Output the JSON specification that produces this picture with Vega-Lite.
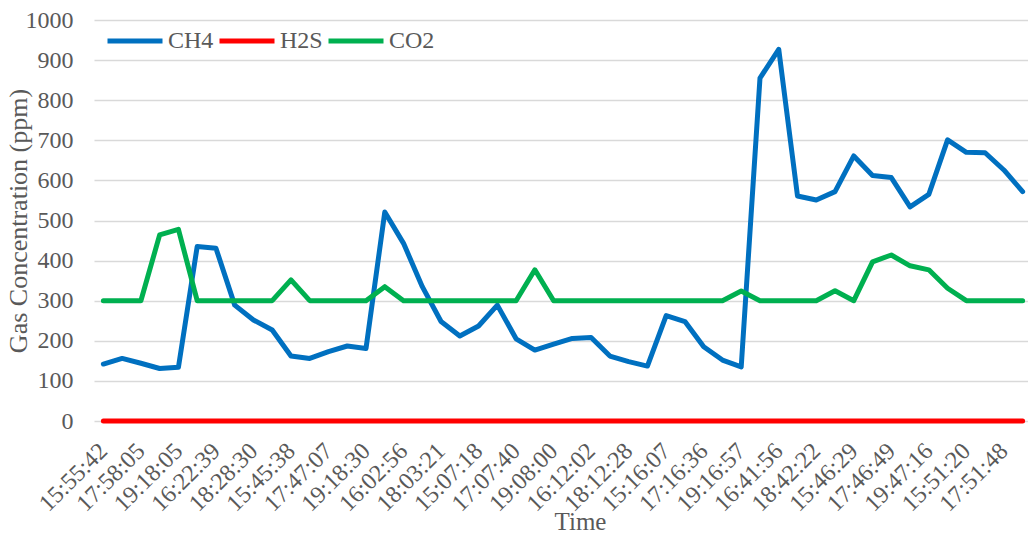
{
  "$schema": "https://vega.github.io/schema/vega-lite/v6.json",
  "width": 934,
  "height": 401,
  "autosize": {"type": "none"},
  "padding": {"left": 94, "top": 20, "right": 0, "bottom": 114},
  "background": "white",
  "config": {
    "font": "Liberation Serif",
    "view": {"stroke": null},
    "axis": {"labelFont": "Liberation Serif", "titleFont": "Liberation Serif"},
    "legend": {"labelFont": "Liberation Serif"}
  },
  "data": {
    "values": [
      {"Time": "15:55:42", "CH4": 142, "H2S": 0, "CO2": 300},
      {"Time": "16:57:10", "CH4": 156, "H2S": 0, "CO2": 300},
      {"Time": "17:58:05", "CH4": 144, "H2S": 0, "CO2": 300},
      {"Time": "18:58:20", "CH4": 131, "H2S": 0, "CO2": 464},
      {"Time": "19:18:05", "CH4": 134, "H2S": 0, "CO2": 478},
      {"Time": "15:20:15", "CH4": 435, "H2S": 0, "CO2": 300},
      {"Time": "16:22:39", "CH4": 431, "H2S": 0, "CO2": 300},
      {"Time": "17:25:44", "CH4": 289, "H2S": 0, "CO2": 300},
      {"Time": "18:28:30", "CH4": 252, "H2S": 0, "CO2": 300},
      {"Time": "19:30:12", "CH4": 227, "H2S": 0, "CO2": 300},
      {"Time": "15:45:38", "CH4": 162, "H2S": 0, "CO2": 352},
      {"Time": "16:46:20", "CH4": 156, "H2S": 0, "CO2": 300},
      {"Time": "17:47:07", "CH4": 173, "H2S": 0, "CO2": 300},
      {"Time": "18:48:02", "CH4": 187, "H2S": 0, "CO2": 300},
      {"Time": "19:18:30", "CH4": 181, "H2S": 0, "CO2": 300},
      {"Time": "15:02:10", "CH4": 521, "H2S": 0, "CO2": 335},
      {"Time": "16:02:56", "CH4": 443, "H2S": 0, "CO2": 300},
      {"Time": "17:03:05", "CH4": 335, "H2S": 0, "CO2": 300},
      {"Time": "18:03:21", "CH4": 248, "H2S": 0, "CO2": 300},
      {"Time": "19:04:40", "CH4": 212, "H2S": 0, "CO2": 300},
      {"Time": "15:07:18", "CH4": 237, "H2S": 0, "CO2": 300},
      {"Time": "16:07:25", "CH4": 289, "H2S": 0, "CO2": 300},
      {"Time": "17:07:40", "CH4": 205, "H2S": 0, "CO2": 300},
      {"Time": "18:08:11", "CH4": 177, "H2S": 0, "CO2": 377},
      {"Time": "19:08:00", "CH4": 192, "H2S": 0, "CO2": 300},
      {"Time": "15:10:33", "CH4": 206, "H2S": 0, "CO2": 300},
      {"Time": "16:12:02", "CH4": 208, "H2S": 0, "CO2": 300},
      {"Time": "17:12:15", "CH4": 162, "H2S": 0, "CO2": 300},
      {"Time": "18:12:28", "CH4": 148, "H2S": 0, "CO2": 300},
      {"Time": "19:14:02", "CH4": 137, "H2S": 0, "CO2": 300},
      {"Time": "15:16:07", "CH4": 263, "H2S": 0, "CO2": 300},
      {"Time": "16:16:21", "CH4": 248, "H2S": 0, "CO2": 300},
      {"Time": "17:16:36", "CH4": 185, "H2S": 0, "CO2": 300},
      {"Time": "18:16:49", "CH4": 152, "H2S": 0, "CO2": 300},
      {"Time": "19:16:57", "CH4": 135, "H2S": 0, "CO2": 324},
      {"Time": "15:41:30", "CH4": 855, "H2S": 0, "CO2": 300},
      {"Time": "16:41:56", "CH4": 927, "H2S": 0, "CO2": 300},
      {"Time": "17:42:09", "CH4": 561, "H2S": 0, "CO2": 300},
      {"Time": "18:42:22", "CH4": 551, "H2S": 0, "CO2": 300},
      {"Time": "19:44:05", "CH4": 572, "H2S": 0, "CO2": 325},
      {"Time": "15:46:29", "CH4": 661, "H2S": 0, "CO2": 300},
      {"Time": "16:46:38", "CH4": 612, "H2S": 0, "CO2": 397},
      {"Time": "17:46:49", "CH4": 607, "H2S": 0, "CO2": 414},
      {"Time": "18:47:02", "CH4": 534, "H2S": 0, "CO2": 387},
      {"Time": "19:47:16", "CH4": 565, "H2S": 0, "CO2": 377},
      {"Time": "16:51:09", "CH4": 701, "H2S": 0, "CO2": 331},
      {"Time": "15:51:20", "CH4": 670, "H2S": 0, "CO2": 300},
      {"Time": "16:51:33", "CH4": 669, "H2S": 0, "CO2": 300},
      {"Time": "17:51:48", "CH4": 626, "H2S": 0, "CO2": 300},
      {"Time": "18:52:01", "CH4": 572, "H2S": 0, "CO2": 300}
    ]
  },
  "transform": [{"fold": ["CH4", "H2S", "CO2"], "as": ["gas", "ppm"]}],
  "mark": {"type": "line", "strokeWidth": 5, "strokeCap": "round", "strokeJoin": "round"},
  "encoding": {
    "x": {
      "field": "Time",
      "type": "nominal",
      "sort": null,
      "scale": {"type": "point", "padding": 0.5, "range": [0, 938]},
      "axis": {
        "values": ["15:55:42", "17:58:05", "19:18:05", "16:22:39", "18:28:30", "15:45:38", "17:47:07", "19:18:30", "16:02:56", "18:03:21", "15:07:18", "17:07:40", "19:08:00", "16:12:02", "18:12:28", "15:16:07", "17:16:36", "19:16:57", "16:41:56", "18:42:22", "15:46:29", "17:46:49", "19:47:16", "15:51:20", "17:51:48"],
        "labelAngle": -45,
        "labelAlign": "right",
        "labelBaseline": "middle",
        "labelFont": "Liberation Serif",
        "labelFontSize": 24,
        "labelColor": "#595959",
        "labelPadding": 26,
        "labelOverlap": false,
        "labelBound": false,
        "ticks": false,
        "domain": false,
        "grid": false,
        "title": "Time",
        "titleFont": "Liberation Serif",
        "titleFontSize": 25,
        "titleFontWeight": "normal",
        "titleColor": "#595959",
        "titlePadding": -6,
        "titleX": 486
      }
    },
    "y": {
      "field": "ppm",
      "type": "quantitative",
      "scale": {"domain": [0, 1000], "nice": false},
      "axis": {
        "values": [0, 100, 200, 300, 400, 500, 600, 700, 800, 900, 1000],
        "format": "d",
        "grid": true,
        "gridColor": "#D9D9D9",
        "gridWidth": 1.5,
        "domain": false,
        "ticks": false,
        "labelFont": "Liberation Serif",
        "labelFontSize": 24,
        "labelColor": "#595959",
        "labelPadding": 21,
        "title": "Gas Concentration (ppm)",
        "titleFont": "Liberation Serif",
        "titleFontSize": 26,
        "titleFontWeight": "normal",
        "titleColor": "#595959",
        "titlePadding": -6
      }
    },
    "color": {
      "field": "gas",
      "type": "nominal",
      "scale": {"domain": ["CH4", "H2S", "CO2"], "range": ["#0070C0", "#FF0000", "#00B050"]},
      "legend": {
        "orient": "none",
        "legendX": 11,
        "legendY": -9,
        "direction": "horizontal",
        "title": null,
        "symbolType": "stroke",
        "symbolSize": 3025,
        "symbolStrokeWidth": 5,
        "labelFont": "Liberation Serif",
        "labelFontSize": 24,
        "labelColor": "#595959",
        "labelOffset": 3,
        "columnPadding": -5,
        "padding": 0
      }
    }
  }
}
